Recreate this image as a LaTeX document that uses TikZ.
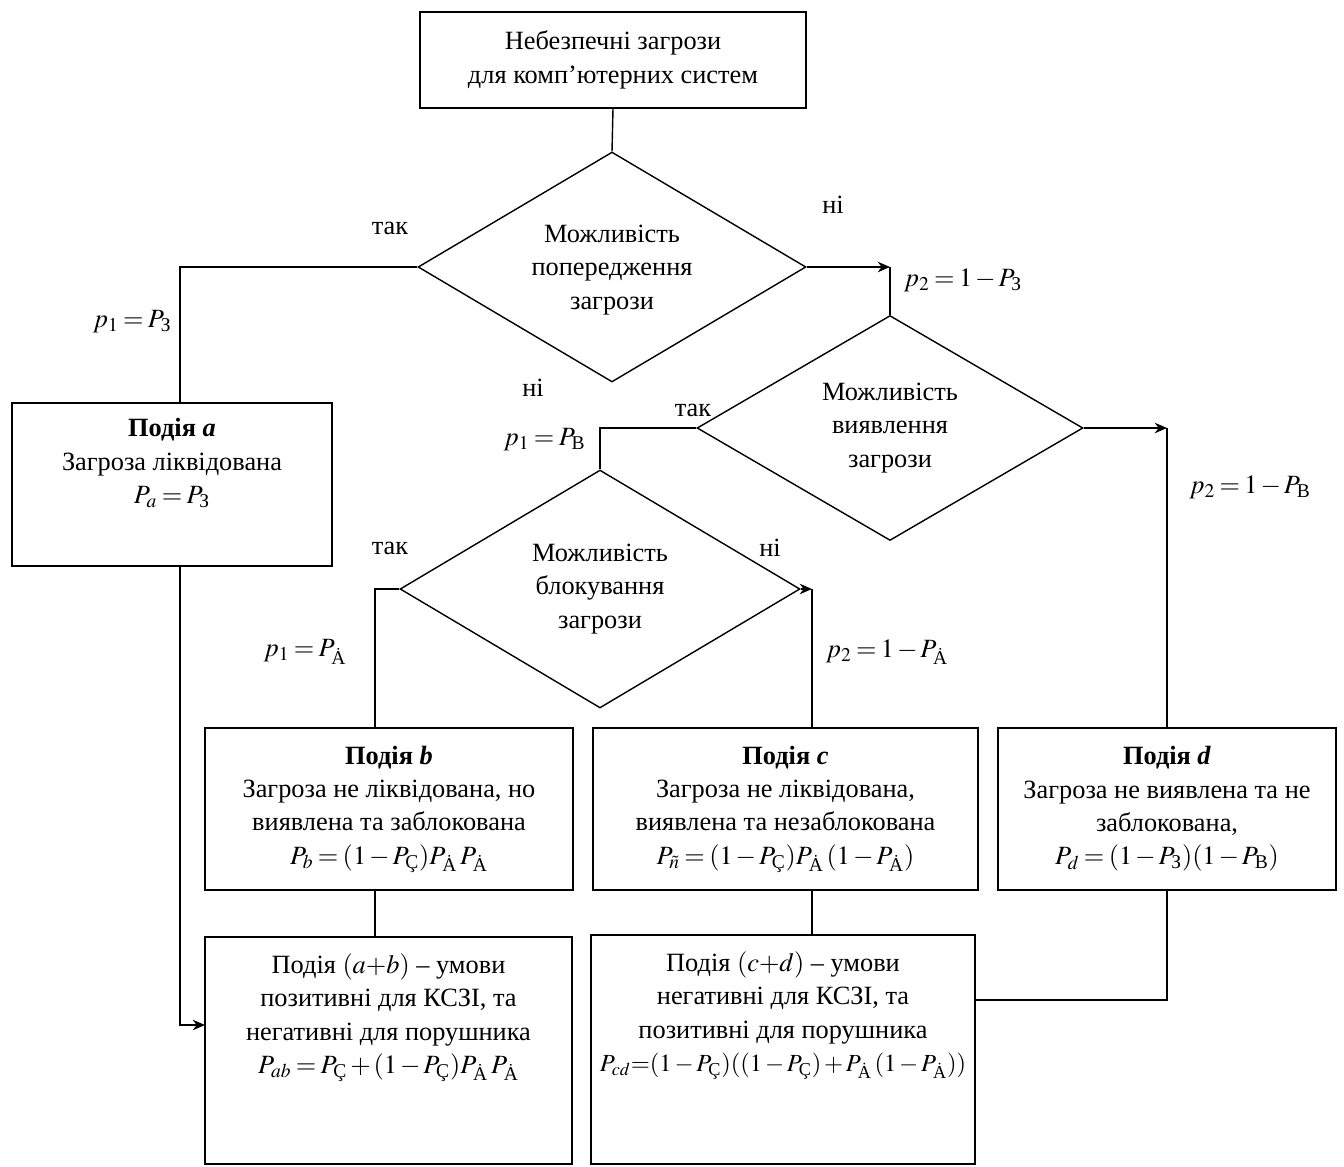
\documentclass[tikz,border=0pt]{standalone}
\usepackage{amsmath}
\usepackage{mathptmx}
\usepackage{fontspec}
\setmainfont{Liberation Serif}
\usetikzlibrary{shapes.geometric,arrows.meta}

\medmuskip=2mu\relax
\thickmuskip=3mu\relax
\newcommand{\PZ}{P_{\text{З}}}
\newcommand{\PV}{P_{\text{В}}}
\newcommand{\PA}{P_{\dot{\text{A}}}}
\newcommand{\PC}{P_{\text{Ç}}}

\tikzset{
  box/.style={draw, inner sep=0pt, align=center},
  decision/.style={draw, diamond, aspect=1.7, inner sep=0pt, align=center},
  boxtext/.style={anchor=north, inner sep=0pt, align=center}
}

\begin{document}
\begin{tikzpicture}[x=0.02cm, y=-0.02cm, line width=0.8pt, >={Stealth[length=7pt,width=6pt]},
    font=\fontsize{15}{19}\selectfont]
  \useasboundingbox (0,0) rectangle (1344,1166);

  \node[box, minimum width=7.72cm, minimum height=1.92cm] (top) at (613,60) {Небезпечні загрози\\для комп'ютерних систем};
  \node[decision, minimum width=7.76cm, minimum height=4.6cm] (d1) at (612,267) {\\[-0.2cm]Можливість\\попередження\\загрози};
  \node[decision, minimum width=7.72cm, minimum height=4.5cm] (d2) at (890,428) {Можливість\\виявлення\\загрози};
  \node[decision, minimum width=8cm, minimum height=4.76cm] (d3) at (600,589) {Можливість\\блокування\\загрози};

  \node[box, minimum width=6.4cm, minimum height=3.26cm] (eva) at (172,484.5) {};
  \node[boxtext] (evatext) at (172,418) {\textbf{Подія \textit{a}}\\Загроза ліквідована\\$P_a=\PZ$};
  \node[box, minimum width=7.36cm, minimum height=3.24cm] (evb) at (389,809) {\textbf{Подія \textit{b}}\\Загроза не ліквідована, но\\виявлена та заблокована\\$P_b=(1-\PC)\PA\,\PA$};
  \node[box, minimum width=7.7cm, minimum height=3.24cm] (evc) at (785.5,809) {\textbf{Подія \textit{c}}\\Загроза не ліквідована,\\виявлена та незаблокована\\$P_{\tilde{n}}=(1-\PC)\PA\,(1-\PA)$};
  \node[box, minimum width=6.76cm, minimum height=3.24cm] (evd) at (1167,809) {\textbf{Подія \textit{d}}\\Загроза не виявлена та не\\заблокована,\\$P_d=(1-\PZ)(1-\PV)$};
  \node[box, minimum width=7.34cm, minimum height=4.54cm] (evab) at (388.5,1050.5) {};
  \node[boxtext] (evabtext) at (388.5,953) {Подія $(a{+}b)$ -- умови\\позитивні для КСЗІ, та\\негативні для порушника\\$P_{ab}=\PC+(1-\PC)\PA\,\PA$};
  \node[box, minimum width=7.68cm, minimum height=4.58cm] (evcd) at (783,1049.5) {};
  \node[boxtext] (evcdtext) at (783,951) {Подія $(c{+}d)$ -- умови\\негативні для КСЗІ, та\\позитивні для порушника\\{\fontsize{14}{19}\selectfont$P_{cd}{=}(1-\PC)((1-\PC)+\PA\,(1-\PA))$}};

  \node (yes1) at (390,228) {так};
  \node (no1) at (833,205) {ні};
  \node[anchor=east] (p1a) at (178,322) {$p_1=\PZ$};
  \node (p2a) at (963,280) {$p_2=1-\PZ$};
  \node (no2) at (533,388) {ні};
  \node (yes2) at (693,410) {так};
  \node[anchor=east] (p1b) at (592,440) {$p_1=\PV$};
  \node (p2b) at (1250,487) {$p_2=1-\PV$};
  \node (yes3) at (390,548) {так};
  \node (no3) at (770,548) {ні};
  \node (p1c) at (305,652) {$p_1=\PA$};
  \node (p2c) at (887,652) {$p_2=1-\PA$};

  \coordinate (ja) at (180,403);
  \coordinate (jb) at (375,728);
  \coordinate (jc) at (812,728);
  \coordinate (jab) at (205,1025);
  \coordinate (jcd) at (975,1000);

  \draw (top.south) -- (d1.north);
  \draw (d1.west) -| (ja);
  \draw[->] (d1.east) -- (d1.east -| d2.north);
  \draw (d1.east -| d2.north) -- (d2.north);
  \draw (d2.west) -| (d3.north);
  \draw[->] (d2.east) -- (d2.east -| evd.north);
  \draw (d2.east -| evd.north) -- (evd.north);
  \draw (d3.west) -| (jb);
  \draw[->] (d3.east) -- (d3.east -| jc);
  \draw (d3.east -| jc) -- (jc);
  \draw (jb |- evb.south) -- (jb |- evab.north);
  \draw (jc |- evc.south) -- (jc |- evcd.north);
  \draw[->] (ja |- eva.south) |- (jab);
  \draw (evd.south) |- (jcd);
\end{tikzpicture}
\end{document}
